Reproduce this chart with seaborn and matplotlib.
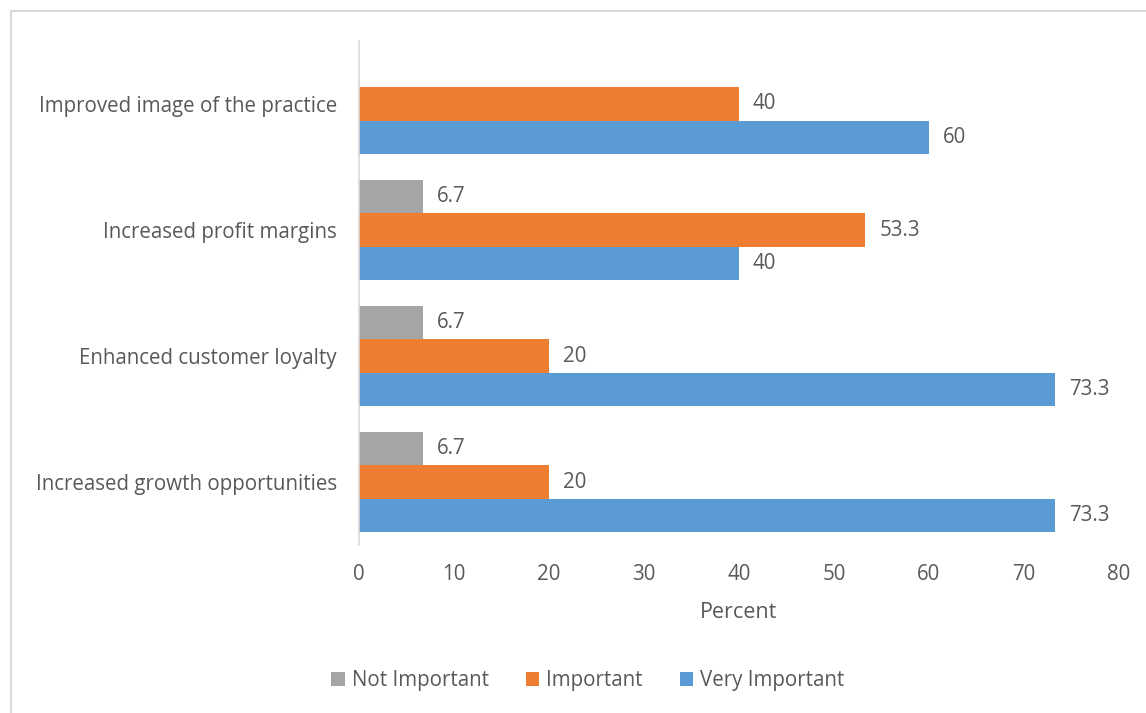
import matplotlib
matplotlib.use("Agg")
import matplotlib.pyplot as plt
import seaborn as sns
import pandas as pd
from matplotlib.patches import Rectangle, Patch

categories = ["Improved image of the practice", "Increased profit margins",
              "Enhanced customer loyalty", "Increased growth opportunities"]
series_names = ["Not Important", "Important", "Very Important"]
not_important = [0, 6.7, 6.7, 6.7]
important = [40, 53.3, 20, 20]
very_important = [60, 40, 73.3, 73.3]
x_ticks = [0, 10, 20, 30, 40, 50, 60, 70, 80]

colors = ["#A5A5A5", "#ED7D31", "#5B9BD5"]
text_color = "#595959"

rows = []
for name, vals in zip(series_names, [not_important, important, very_important]):
    for c, v in zip(categories, vals):
        rows.append({"Category": c, "Series": name, "Value": v})
df = pd.DataFrame(rows)

sns.set_theme(style="white")
plt.rcParams['font.family'] = ['Open Sans', 'DejaVu Sans']

fig = plt.figure(figsize=(11.46, 7.13), dpi=100)
ax = fig.add_axes([0.3133, 0.2356, 0.9764 - 0.3133, 0.9425 - 0.2356])

sns.barplot(data=df, x="Value", y="Category", hue="Series", order=categories,
            hue_order=series_names, palette=colors, orient="h", width=0.80,
            ax=ax, saturation=1, legend=False, linewidth=0, edgecolor="none")

fs = 14.8
for cont, vals in zip(ax.containers, [not_important, important, very_important]):
    labels = [("" if v == 0 else f"{v:g}") for v in vals]
    ax.bar_label(cont, labels=labels, padding=10, fontsize=fs, color=text_color)

ax.set_xlim(0, 80)
ax.set_xticks(x_ticks)
ax.set_xticklabels([str(t) for t in x_ticks], fontsize=fs, color=text_color)
ax.tick_params(axis='x', length=0, pad=14)
ax.tick_params(axis='y', length=0, pad=16, labelsize=fs, labelcolor=text_color)
ax.set_ylabel("")
ax.set_xlabel("Percent", fontsize=15.5, color=text_color, labelpad=12)
for s in ["top", "right", "bottom"]:
    ax.spines[s].set_visible(False)
ax.spines["left"].set_color("#D9D9D9")
ax.spines["left"].set_linewidth(1.2)
ax.grid(False)

handles = [Patch(facecolor=c, edgecolor='none') for c in colors]
fig.legend(handles, series_names, loc="center", bbox_to_anchor=(0.513, 0.045),
           ncol=3, frameon=False, fontsize=fs, labelcolor=text_color,
           handlelength=0.65, handleheight=0.65, handletextpad=0.35, columnspacing=1.8)

fig.patches.append(Rectangle((11 / 1146, -0.01), 1.2, 1 - 11 / 713 + 0.01,
                             transform=fig.transFigure, fill=False,
                             edgecolor="#D9D9D9", linewidth=1.5))

fig.savefig("out.png", dpi=100)
